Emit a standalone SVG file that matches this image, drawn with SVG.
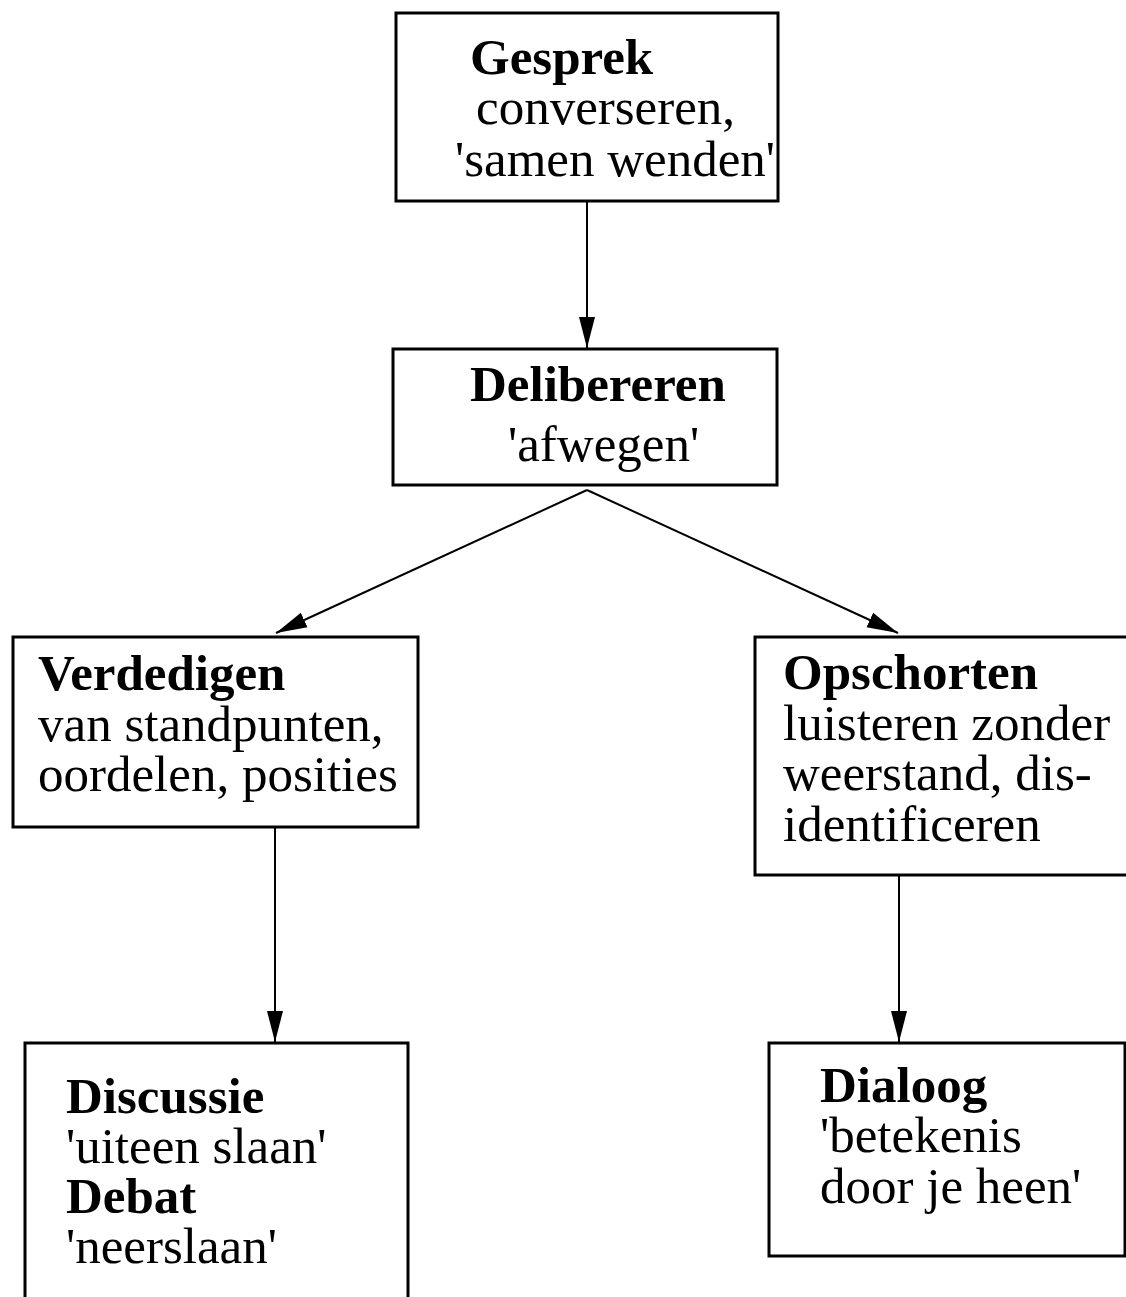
<svg xmlns="http://www.w3.org/2000/svg" width="1126" height="1297" viewBox="0 0 1126 1297">
<style>
.box{fill:#fff;stroke:#000;stroke-width:3}
text{font-family:"Liberation Serif","Times New Roman",serif;font-size:51px;fill:#000}
.b{font-weight:bold}
.edge{stroke:#000;stroke-width:2;fill:none;marker-end:url(#ah)}
</style>
<defs>
<marker id="ah" markerUnits="userSpaceOnUse" markerWidth="32" markerHeight="18" viewBox="0 0 32 18" refX="31" refY="9" orient="auto">
<path d="M0,1 L31,9 L0,17 z" fill="#000"/>
</marker>
</defs>
<rect width="1126" height="1297" fill="#fff"/>
<g id="connectors">
<line class="edge" x1="587" y1="202" x2="587" y2="348"/>
<line class="edge" x1="587" y1="490" x2="276" y2="633"/>
<line class="edge" x1="587" y1="490" x2="898" y2="633"/>
<line class="edge" x1="275" y1="827" x2="275" y2="1042"/>
<line class="edge" x1="899" y1="875" x2="899" y2="1042"/>
</g>
<g id="gesprek">
<rect class="box" x="396" y="13" width="382" height="188"/>
<text class="b" x="470" y="74">Gesprek</text>
<text x="476" y="124">converseren,</text>
<text x="455" y="176">'samen wenden'</text>
</g>
<g id="delibereren">
<rect class="box" x="393" y="349" width="384" height="136"/>
<text class="b" x="470" y="401">Delibereren</text>
<text x="508" y="461">'afwegen'</text>
</g>
<g id="verdedigen">
<rect class="box" x="13" y="637" width="405" height="190"/>
<text class="b" x="38" y="690">Verdedigen</text>
<text x="38" y="741">van standpunten,</text>
<text x="38" y="791">oordelen, posities</text>
</g>
<g id="opschorten">
<rect class="box" x="755" y="637" width="380" height="238"/>
<text class="b" x="783" y="689">Opschorten</text>
<text x="783" y="740">luisteren zonder</text>
<text x="783" y="790">weerstand, dis-</text>
<text x="783" y="841">identificeren</text>
</g>
<g id="discussie">
<rect class="box" x="25" y="1043" width="383" height="270"/>
<text class="b" x="66" y="1113">Discussie</text>
<text x="66" y="1163">'uiteen slaan'</text>
<text class="b" x="66" y="1213">Debat</text>
<text x="66" y="1263">'neerslaan'</text>
</g>
<g id="dialoog">
<rect class="box" x="769" y="1043" width="356" height="213"/>
<text class="b" x="820" y="1102">Dialoog</text>
<text x="820" y="1152">'betekenis</text>
<text x="820" y="1203">door je heen'</text>
</g>
</svg>
